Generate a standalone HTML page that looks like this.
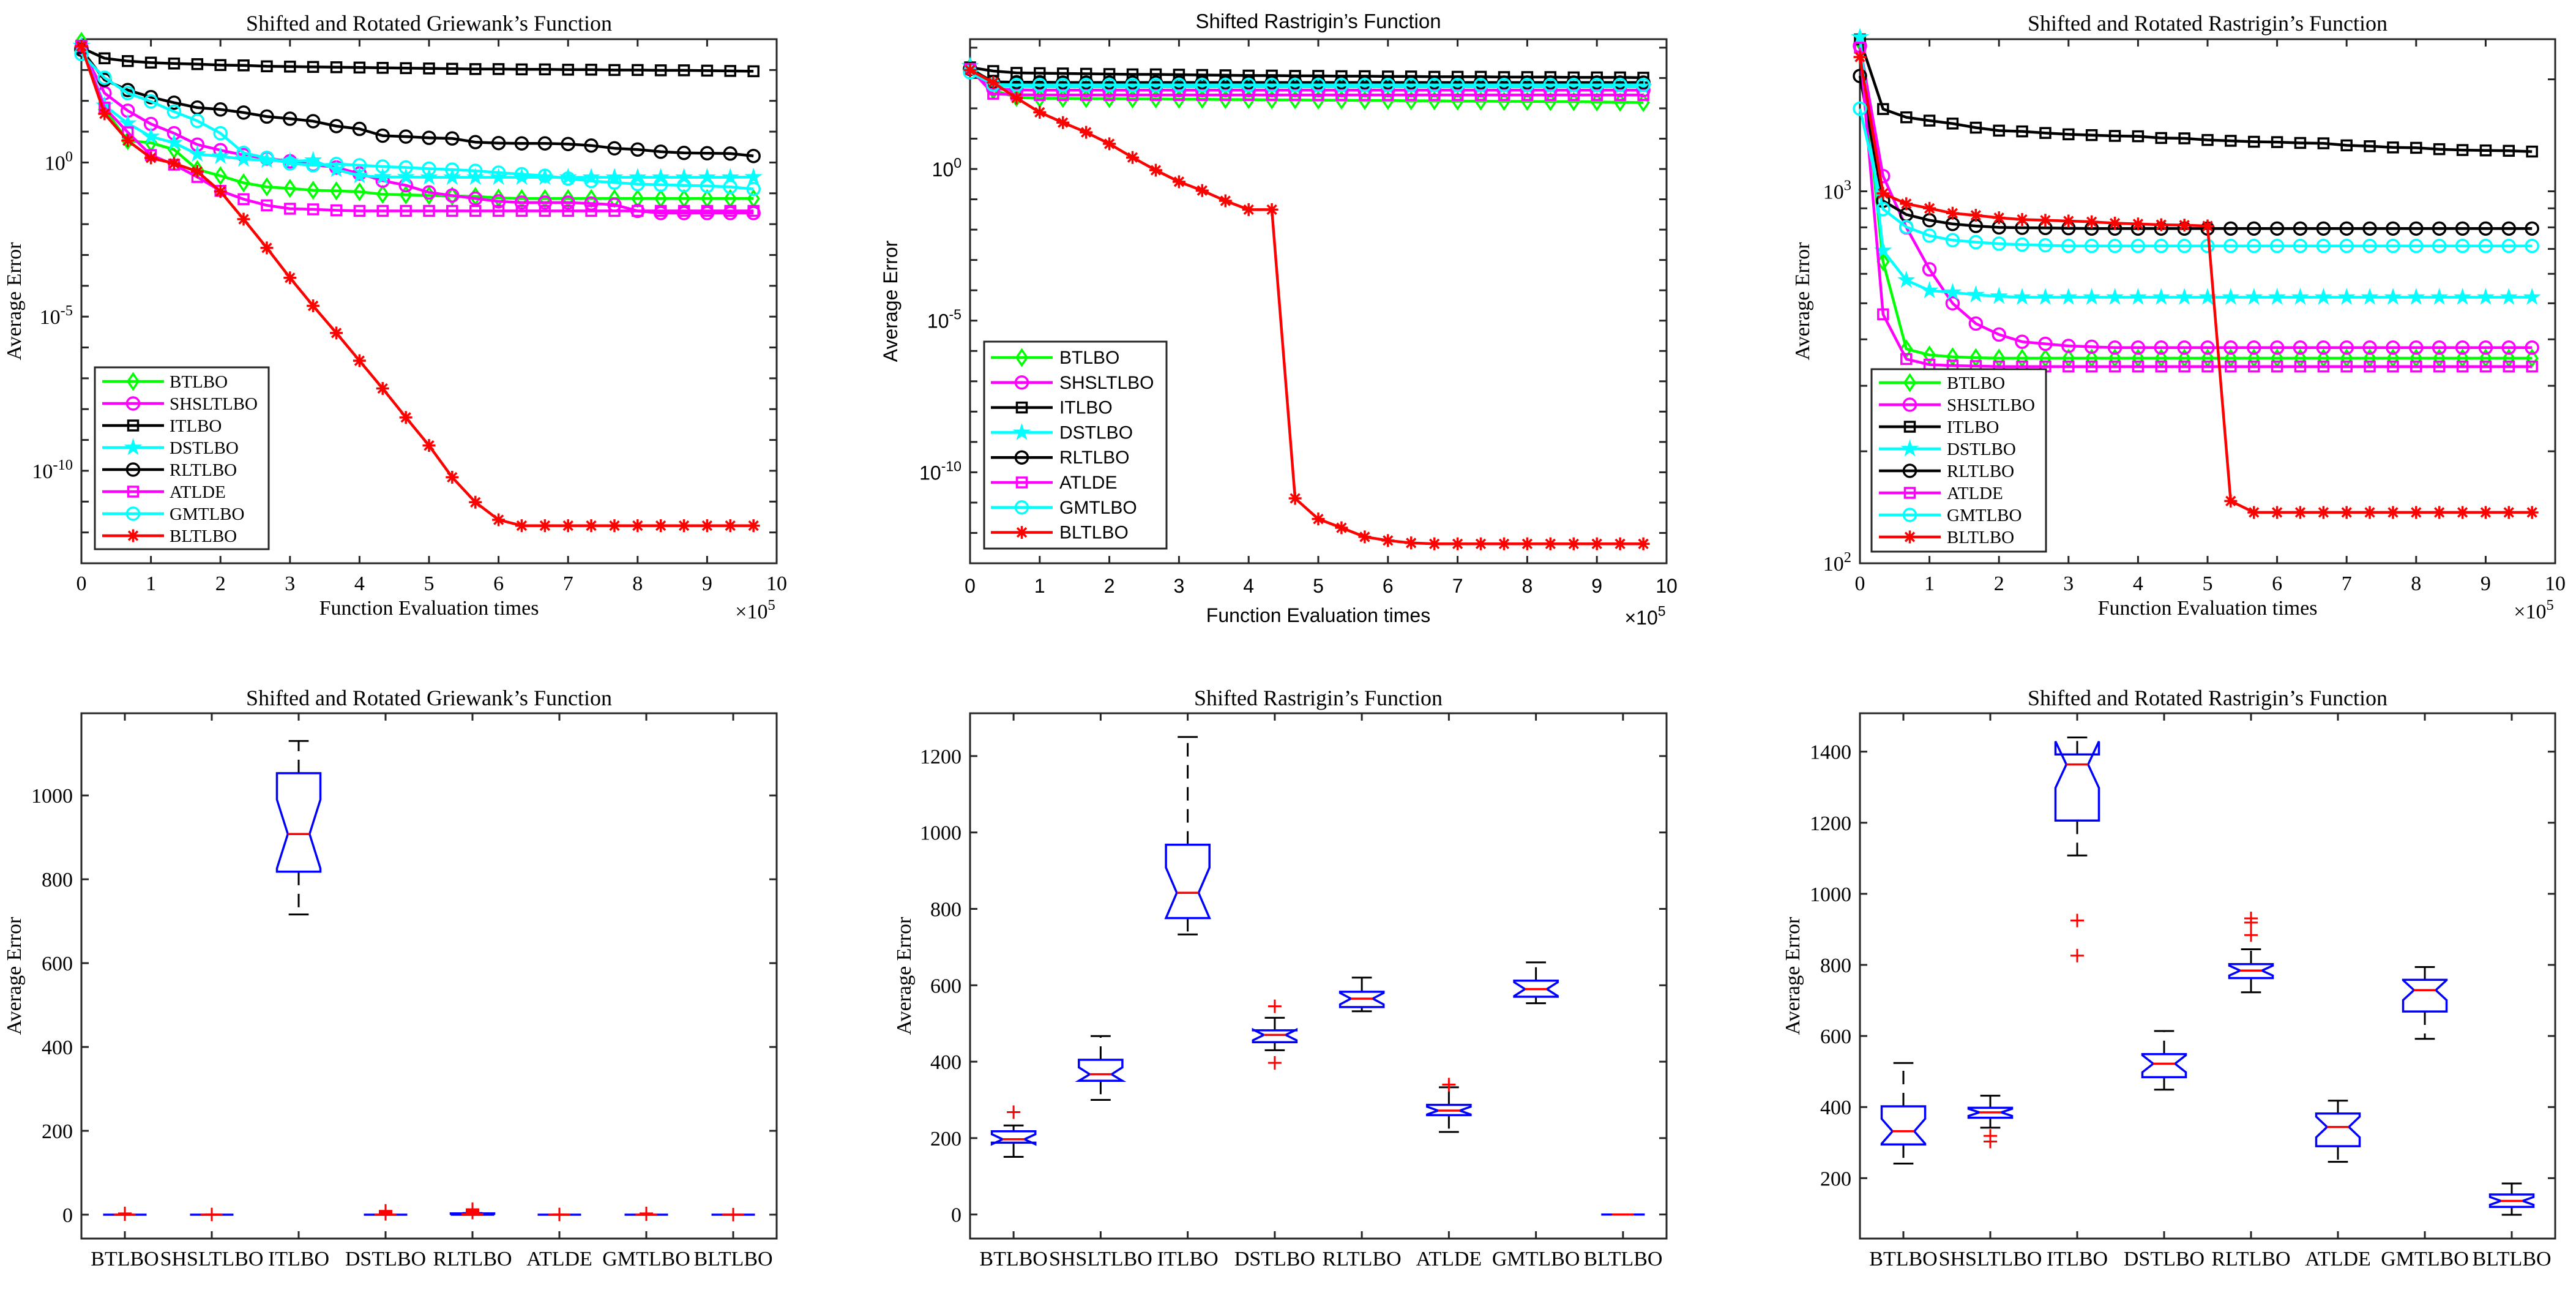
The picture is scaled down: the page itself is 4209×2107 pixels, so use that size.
<!DOCTYPE html>
<html><head><meta charset="utf-8"><style>
html,body{margin:0;padding:0;background:#fff;}
svg{display:block;}
</style></head><body>
<svg id="fig" xmlns="http://www.w3.org/2000/svg" width="4209" height="2107" viewBox="0 0 4209 2107"></svg>
<script>
// ---------- shared data ----------
const evalX = [0,0.333,0.667,1,1.333,1.667,2,2.333,2.667,3,3.333,3.667,4,4.333,4.667,5,5.333,5.667,6,6.333,6.667,7,7.333,7.667,8,8.333,8.667,9,9.333,9.667];
const algoNames = ["BTLBO","SHSLTLBO","ITLBO","DSTLBO","RLTLBO","ATLDE","GMTLBO","BLTLBO"];
const xTickVals = [0,1,2,3,4,5,6,7,8,9,10];

// ---------- chart 1: Griewank convergence (log10 values) ----------
const g_BTLBO = [3.93,1.72,0.71,0.64,0.42,-0.23,-0.43,-0.66,-0.79,-0.84,-0.90,-0.92,-0.95,-1.03,-1.05,-1.07,-1.09,-1.10,-1.15,-1.17,-1.17,-1.17,-1.17,-1.17,-1.17,-1.17,-1.17,-1.17,-1.17,-1.17];
const g_SHSLTLBO = [3.72,2.25,1.68,1.25,0.95,0.58,0.40,0.24,0.13,0.04,-0.07,-0.16,-0.36,-0.59,-0.74,-0.97,-1.07,-1.17,-1.26,-1.30,-1.30,-1.30,-1.33,-1.37,-1.57,-1.64,-1.64,-1.64,-1.64,-1.64];
const g_ITLBO = [3.72,3.38,3.29,3.24,3.21,3.19,3.16,3.15,3.12,3.11,3.10,3.09,3.08,3.07,3.06,3.05,3.04,3.03,3.03,3.02,3.02,3.01,3.01,3.00,3.00,2.99,2.99,2.98,2.97,2.96];
const g_DSTLBO = [3.79,1.85,1.27,0.84,0.64,0.27,0.20,0.11,0.07,0.04,0.07,-0.23,-0.43,-0.47,-0.47,-0.48,-0.48,-0.48,-0.48,-0.48,-0.48,-0.48,-0.48,-0.48,-0.48,-0.48,-0.48,-0.48,-0.48,-0.47];
const g_RLTLBO = [3.66,2.68,2.35,2.12,1.94,1.78,1.72,1.62,1.49,1.42,1.34,1.18,1.09,0.87,0.84,0.80,0.78,0.66,0.63,0.62,0.62,0.60,0.55,0.46,0.42,0.35,0.31,0.30,0.29,0.21];
const g_ATLDE = [3.79,1.78,0.98,0.24,-0.07,-0.47,-0.92,-1.19,-1.39,-1.50,-1.52,-1.55,-1.57,-1.57,-1.57,-1.57,-1.57,-1.57,-1.57,-1.57,-1.57,-1.57,-1.57,-1.57,-1.57,-1.57,-1.57,-1.57,-1.57,-1.57];
const g_GMTLBO = [3.52,2.75,2.25,1.98,1.65,1.35,0.95,0.31,0.15,-0.03,-0.09,-0.05,-0.09,-0.13,-0.16,-0.20,-0.23,-0.27,-0.33,-0.38,-0.43,-0.52,-0.60,-0.65,-0.70,-0.72,-0.74,-0.76,-0.79,-0.86];
const g_BLTLBO = [3.77,1.58,0.71,0.15,-0.03,-0.29,-0.94,-1.84,-2.77,-3.74,-4.65,-5.53,-6.43,-7.33,-8.27,-9.18,-10.21,-11.02,-11.59,-11.78,-11.78,-11.78,-11.78,-11.78,-11.78,-11.78,-11.78,-11.78,-11.78,-11.78];

// ---------- chart 2: Rastrigin convergence (log10 values) ----------
const r_BTLBO = [3.35,2.60,2.36,2.33,2.33,2.32,2.32,2.31,2.31,2.30,2.30,2.29,2.29,2.28,2.28,2.27,2.27,2.26,2.26,2.25,2.25,2.24,2.24,2.23,2.23,2.22,2.22,2.21,2.20,2.19];
const r_SHSLTLBO = [3.30,2.65,2.61,2.60,2.60,2.60,2.60,2.60,2.60,2.60,2.60,2.60,2.60,2.60,2.60,2.60,2.60,2.60,2.60,2.60,2.60,2.60,2.60,2.60,2.60,2.60,2.60,2.60,2.60,2.60];
const r_ITLBO = [3.35,3.23,3.17,3.16,3.15,3.14,3.13,3.12,3.12,3.11,3.10,3.09,3.08,3.08,3.07,3.07,3.06,3.06,3.05,3.05,3.04,3.04,3.04,3.03,3.03,3.03,3.02,3.02,3.02,3.01];
const r_DSTLBO = [3.40,2.75,2.72,2.71,2.71,2.71,2.71,2.71,2.71,2.71,2.71,2.71,2.71,2.71,2.71,2.71,2.71,2.71,2.71,2.71,2.71,2.71,2.71,2.71,2.71,2.71,2.71,2.71,2.71,2.71];
const r_RLTLBO = [3.30,2.87,2.86,2.86,2.85,2.85,2.85,2.85,2.85,2.85,2.85,2.85,2.85,2.85,2.85,2.85,2.85,2.85,2.85,2.85,2.85,2.85,2.85,2.85,2.85,2.85,2.85,2.85,2.85,2.85];
const r_ATLDE = [3.30,2.48,2.45,2.44,2.44,2.44,2.44,2.44,2.44,2.44,2.44,2.44,2.44,2.44,2.44,2.44,2.44,2.44,2.44,2.44,2.44,2.44,2.44,2.44,2.44,2.44,2.44,2.44,2.44,2.44];
const r_GMTLBO = [3.19,2.78,2.77,2.77,2.77,2.77,2.77,2.77,2.77,2.77,2.77,2.77,2.77,2.77,2.77,2.77,2.77,2.77,2.77,2.77,2.77,2.77,2.77,2.77,2.77,2.77,2.77,2.77,2.77,2.77];
const r_BLTLBO = [3.26,2.85,2.34,1.87,1.53,1.21,0.83,0.38,-0.04,-0.42,-0.71,-1.05,-1.34,-1.34,-10.86,-11.54,-11.83,-12.13,-12.25,-12.33,-12.36,-12.36,-12.36,-12.36,-12.36,-12.36,-12.36,-12.36,-12.36,-12.36];

// ---------- chart 3: Rotated Rastrigin convergence (raw values) ----------
const rr_BTLBO = [2523,647,377,363,359,357,356,356,356,356,356,356,356,356,356,356,356,356,356,356,356,356,356,356,356,356,356,356,356,356];
const rr_SHSLTLBO = [2460,1099,800,617,500,441,412,394,389,384,382,380,380,380,380,380,380,380,380,380,380,380,380,380,380,380,380,380,380,380];
const rr_ITLBO = [2560,1664,1581,1549,1521,1483,1456,1449,1435,1423,1416,1409,1406,1391,1388,1374,1367,1359,1356,1349,1346,1329,1322,1312,1309,1298,1291,1288,1285,1279];
const rr_DSTLBO = [2596,693,577,541,535,527,522,519,519,519,519,519,519,519,519,519,519,519,519,519,519,519,519,519,519,519,519,519,519,519];
const rr_RLTLBO = [2042,943,866,836,817,807,800,798,797,796,794,794,794,794,794,794,794,794,794,794,794,794,794,794,794,794,794,794,794,794];
const rr_ATLDE = [2433,467,354,342,340,339,338,338,338,338,338,338,338,338,338,338,338,338,338,338,338,338,338,338,338,338,338,338,338,338];
const rr_GMTLBO = [1668,896,802,760,739,730,723,719,716,713,713,713,713,713,713,713,713,713,713,713,713,713,713,713,713,713,713,713,713,713];
const rr_BLTLBO = [2297,987,926,900,873,862,849,840,836,832,828,821,817,813,811,807,147,137,137,137,137,137,137,137,137,137,137,137,137,137];

// ---------- box plot data ----------
const b1_low = [0,0,716,0,0,0,0,0];
const b1_q1 = [0,0,818,0,0,0,0,0];
const b1_med = [0,0,908,0,1,0,0,0];
const b1_q3 = [0,0,1053,0,3,0,0,0];
const b1_high = [0,0,1130,0,4,0,0,0];
const b1_nlo = [0,0,826,0,0,0,0,0];
const b1_nhi = [0,0,990,0,2,0,0,0];
const b1_out = [[1,3],[0.5],[],[2,5,9],[5,9,13],[0.5],[1,3],[0.2]];

const b2_low = [151,300,733,430,532,216,553,0];
const b2_q1 = [188,350,776,451,543,260,570,0];
const b2_med = [197,367,842,470,565,272,590,0];
const b2_q3 = [218,405,968,482,583,287,612,0];
const b2_high = [233,467,1250,515,620,333,660,0];
const b2_nlo = [184,350,776,456,550,262,572,0];
const b2_nhi = [210,385,908,484,580,282,608,0];
const b2_out = [[268],[],[],[545,397],[],[340],[],[]];

const b3_low = [241,342,1108,449,723,246,592,97];
const b3_q1 = [295,370,1206,484,763,290,669,119];
const b3_med = [332,385,1364,522,784,344,729,136];
const b3_q3 = [402,398,1392,549,802,382,758,154];
const b3_high = [524,432,1440,614,844,418,794,185];
const b3_nlo = [297,375,1298,498,770,315,701,125];
const b3_nhi = [367,395,1429,546,798,373,757,147];
const b3_out = [[],[319,303],[925,826],[],[919,884,931],[],[],[]];

// ---------- helpers ----------
const NS = "http://www.w3.org/2000/svg";
const svg = document.getElementById('fig');
function mk(tag, attrs, parent){
  const e = document.createElementNS(NS, tag);
  for (const k in attrs) e.setAttribute(k, attrs[k]);
  (parent||svg).appendChild(e);
  return e;
}
const AX = "#262626";
const styles = [
  {c:"#00ff00", m:"diamond"},
  {c:"#ff00ff", m:"circle"},
  {c:"#000000", m:"square"},
  {c:"#00ffff", m:"star"},
  {c:"#000000", m:"circle"},
  {c:"#ff00ff", m:"square"},
  {c:"#00ffff", m:"circle"},
  {c:"#ff0000", m:"asterisk"}
];
function marker(g, type, x, y, color, s){
  let e;
  if (type==="circle"){ e = mk('circle',{cx:x,cy:y,r:s,fill:'none',stroke:color,'stroke-width':3.5},g); }
  else if (type==="square"){ e = mk('rect',{x:x-s*0.8,y:y-s*0.8,width:s*1.6,height:s*1.6,fill:'none',stroke:color,'stroke-width':3.5},g); }
  else if (type==="diamond"){ e = mk('polygon',{points:`${x},${y-s*1.25} ${x+s*0.85},${y} ${x},${y+s*1.25} ${x-s*0.85},${y}`,fill:'none',stroke:color,'stroke-width':3.5},g); }
  else if (type==="star"){
    let p=[]; for(let k=0;k<10;k++){const r=k%2?s*0.5:s*1.3;const a=-Math.PI/2+k*Math.PI/5;p.push((x+r*Math.cos(a)).toFixed(1)+","+(y+r*Math.sin(a)).toFixed(1));}
    e = mk('polygon',{points:p.join(' '),fill:color,stroke:color,'stroke-width':1.5},g);
  } else {
    const r=s*1.05; let d="";
    for(let k=0;k<4;k++){const a=k*Math.PI/4;d+=`M${x-r*Math.cos(a)},${y-r*Math.sin(a)}L${x+r*Math.cos(a)},${y+r*Math.sin(a)}`;}
    e = mk('path',{d:d,stroke:color,'stroke-width':3.5,fill:'none'},g);
  }
  
  
  return e;
}
function txt(parent, x, y, s, font, size, anchor, name){
  const t = mk('text',{x:x,y:y,'font-family':font,'font-size':size,'text-anchor':anchor||'middle',fill:'#000'},parent);
  t.textContent = s;
  
  
  return t;
}
function powLabel(parent, x, y, exp, font, size){
  const t = mk('text',{x:x,y:y,'font-family':font,'font-size':size,'text-anchor':'end',fill:'#000'},parent);
  
  
  const a = mk('tspan',{},t); a.textContent = "10";
  const b = mk('tspan',{dy:-14,'font-size':size*0.72},t); b.textContent = String(exp);
  return t;
}

// ---------- convergence chart ----------
function lineChart(cfg){
  const g = mk('g',{});
  
  
  const {x0,x1,y0,y1,lmin,lmax,font,fs} = cfg;
  const sx = v => x0 + (v-0)/(10-0)*(x1-x0);
  const sy = l => y1 - (l-lmin)/(lmax-lmin)*(y1-y0);
  // box
  const frame = mk('rect',{x:x0,y:y0,width:x1-x0,height:y1-y0,fill:'none',stroke:AX,'stroke-width':3},g);
  
  
  // x ticks
  xTickVals.forEach(v=>{
    const X = sx(v);
    mk('line',{x1:X,y1:y1,x2:X,y2:y1-12,stroke:AX,'stroke-width':3},g);
    mk('line',{x1:X,y1:y0,x2:X,y2:y0+12,stroke:AX,'stroke-width':3},g);
    txt(g, X, y1+cfg.tickDy, String(v), font, fs, 'middle', 'x-tick-label');
  });
  // y ticks
  cfg.yTicks.forEach(l=>{
    const Y = sy(l);
    mk('line',{x1:x0,y1:Y,x2:x0+12,y2:Y,stroke:AX,'stroke-width':3},g);
    mk('line',{x1:x1,y1:Y,x2:x1-12,y2:Y,stroke:AX,'stroke-width':3},g);
  });
  cfg.yLabels.forEach(l=>{ powLabel(g, x0-14, sy(l)+12, l, font, fs); });
  // titles
  txt(g, (x0+x1)/2+cfg.titleDx, cfg.titleY, cfg.title, font, cfg.tfs, 'middle', 'chart-title');
  txt(g, (x0+x1)/2, cfg.xlabY, "Function Evaluation times", font, fs, 'middle', 'x-axis-title');
  const yl = txt(g, 0, 0, "Average Error", font, fs, 'middle', 'y-axis-title');
  yl.setAttribute('transform', `translate(${cfg.ylabX},${(y0+y1)/2}) rotate(-90)`);
  const ex = mk('text',{x:x1-35,y:y1+cfg.expDy,'font-family':font,'font-size':fs,'text-anchor':'middle',fill:'#000'},g);
  
  
  const e1 = mk('tspan',{},ex); e1.textContent = "×10";
  const e2 = mk('tspan',{dy:-14,'font-size':fs*0.72},ex); e2.textContent = "5";
  // series
  cfg.series.forEach((vals,i)=>{
    const st = styles[i];
    const toL = cfg.raw ? (v=>Math.log10(v)) : (v=>v);
    const pts = vals.map((v,k)=>[sx(evalX[k]), sy(toL(v))]);
    const sg = mk('g',{},g);
    
    
    const pl = mk('polyline',{points:pts.map(p=>p[0].toFixed(1)+","+p[1].toFixed(1)).join(' '),fill:'none',stroke:st.c,'stroke-width':4.5,'stroke-linejoin':'round'},sg);
    
    
    pts.forEach(p=>marker(sg, st.m, p[0], p[1], st.c, 10));
  });
  // legend
  const L = cfg.legend;
  const lg = mk('g',{},g);
  
  
  const lb = mk('rect',{x:L.x0,y:L.y0,width:L.x1-L.x0,height:L.y1-L.y0,fill:'#fff',stroke:AX,'stroke-width':3},lg);
  
  
  algoNames.forEach((n,i)=>{
    const y = L.first + i*L.step;
    const st = styles[i];
    const eg = mk('g',{},lg);
    
    
    mk('line',{x1:L.lx0,y1:y,x2:L.lx1,y2:y,stroke:st.c,'stroke-width':4.5},eg);
    marker(eg, st.m, (L.lx0+L.lx1)/2, y, st.c, 10);
    txt(eg, L.tx, y+10, n, font, L.fs, 'start', 'legend-label');
  });
}

// ---------- box chart ----------
function boxChart(cfg){
  const g = mk('g',{});
  
  
  const {x0,x1,y0,y1,ymin,ymax,font,fs} = cfg;
  const sx = i => x0 + (i+1-0.5)/8*(x1-x0);
  const sy = v => y1 - (v-ymin)/(ymax-ymin)*(y1-y0);
  const unit = (x1-x0)/8;
  const frame = mk('rect',{x:x0,y:y0,width:x1-x0,height:y1-y0,fill:'none',stroke:AX,'stroke-width':3},g);
  
  
  algoNames.forEach((n,i)=>{
    const X = sx(i);
    mk('line',{x1:X,y1:y1,x2:X,y2:y1-12,stroke:AX,'stroke-width':3},g);
    mk('line',{x1:X,y1:y0,x2:X,y2:y0+12,stroke:AX,'stroke-width':3},g);
    txt(g, X, y1+44, n, font, fs, 'middle', 'x-tick-label');
  });
  cfg.yTicks.forEach(v=>{
    const Y = sy(v);
    mk('line',{x1:x0,y1:Y,x2:x0+12,y2:Y,stroke:AX,'stroke-width':3},g);
    mk('line',{x1:x1,y1:Y,x2:x1-12,y2:Y,stroke:AX,'stroke-width':3},g);
    txt(g, x0-14, Y+12, String(v), font, fs, 'end', 'y-tick-label');
  });
  txt(g, (x0+x1)/2, cfg.titleY, cfg.title, font, cfg.tfs, 'middle', 'chart-title');
  const yl = txt(g, 0, 0, "Average Error", font, fs, 'middle', 'y-axis-title');
  yl.setAttribute('transform', `translate(${cfg.ylabX},${(y0+y1)/2}) rotate(-90)`);
  const d = cfg.data;
  algoNames.forEach((n,i)=>{
    const bg = mk('g',{},g);
    
    
    const X = sx(i), hw = unit*0.25, cw = unit*0.115;
    const q1=sy(d.q1[i]), q3=sy(d.q3[i]), md=sy(d.med[i]), lo=sy(d.low[i]), hi=sy(d.high[i]);
    const nl=sy(d.nlo[i]), nh=sy(d.nhi[i]);
    mk('line',{x1:X,y1:q3,x2:X,y2:hi,stroke:'#000','stroke-width':3,'stroke-dasharray':'22,14'},bg);
    mk('line',{x1:X,y1:q1,x2:X,y2:lo,stroke:'#000','stroke-width':3,'stroke-dasharray':'22,14'},bg);
    mk('line',{x1:X-cw,y1:hi,x2:X+cw,y2:hi,stroke:'#000','stroke-width':3},bg);
    mk('line',{x1:X-cw,y1:lo,x2:X+cw,y2:lo,stroke:'#000','stroke-width':3},bg);
    const l=X-hw, r=X+hw, il=X-hw/2, ir=X+hw/2;
    const pts = [[l,q1],[l,nl],[il,md],[l,nh],[l,q3],[r,q3],[r,nh],[ir,md],[r,nl],[r,q1]];
    const bx = mk('polygon',{points:pts.map(p=>p[0].toFixed(1)+","+p[1].toFixed(1)).join(' '),fill:'none',stroke:'#0000ff','stroke-width':3.5},bg);
    
    
    const ml = mk('line',{x1:il,y1:md,x2:ir,y2:md,stroke:'#ff0000','stroke-width':3.5},bg);
    
    
    d.out[i].forEach(v=>{
      const Y = sy(v);
      const o = mk('path',{d:`M${X-11},${Y}L${X+11},${Y}M${X},${Y-11}L${X},${Y+11}`,stroke:'#ff0000','stroke-width':3},bg);
      
      
    });
  });
}

const SERIF = "'Liberation Serif', serif";
const SANS = "'Liberation Sans', sans-serif";

lineChart({name:'griewank-convergence-chart', x0:133,x1:1269,y0:64,y1:920,lmin:-13,lmax:4,font:SERIF,fs:34,tfs:36,
  yTicks:[-13,-12,-11,-10,-9,-8,-7,-6,-5,-4,-3,-2,-1,0,1,2,3,4], yLabels:[0,-5,-10],
  title:"Shifted and Rotated Griewank’s Function", titleY:50, titleDx:0, xlabY:1004, ylabX:34, tickDy:44, expDy:90,
  series:[g_BTLBO,g_SHSLTLBO,g_ITLBO,g_DSTLBO,g_RLTLBO,g_ATLDE,g_GMTLBO,g_BLTLBO],
  legend:{x0:155,x1:439,y0:600,y1:897,first:623,step:36,lx0:167,lx1:268,tx:277,fs:29}});

lineChart({name:'rastrigin-convergence-chart', x0:1585,x1:2723,y0:64,y1:920,lmin:-13,lmax:4.28,font:SANS,fs:32,tfs:33,
  yTicks:[-13,-12,-11,-10,-9,-8,-7,-6,-5,-4,-3,-2,-1,0,1,2,3,4], yLabels:[0,-5,-10],
  title:"Shifted Rastrigin’s Function", titleY:46, titleDx:0, xlabY:1016, ylabX:1466, tickDy:48, expDy:100,
  series:[r_BTLBO,r_SHSLTLBO,r_ITLBO,r_DSTLBO,r_RLTLBO,r_ATLDE,r_GMTLBO,r_BLTLBO],
  legend:{x0:1608,x1:1906,y0:558,y1:896,first:584,step:40.8,lx0:1619,lx1:1720,tx:1731,fs:30}});

(function(){
  const yT = [2,Math.log10(200),Math.log10(300),Math.log10(400),Math.log10(500),Math.log10(600),Math.log10(700),Math.log10(800),Math.log10(900),3,Math.log10(2000)];
  lineChart({name:'rotated-rastrigin-convergence-chart', x0:3039,x1:4175,y0:64,y1:920,lmin:2,lmax:3.409,font:SERIF,fs:34,tfs:36,raw:true,
    yTicks:yT, yLabels:[2,3],
    title:"Shifted and Rotated Rastrigin’s Function", titleY:50, titleDx:0, xlabY:1004, ylabX:2956, tickDy:44, expDy:90,
    series:[rr_BTLBO,rr_SHSLTLBO,rr_ITLBO,rr_DSTLBO,rr_RLTLBO,rr_ATLDE,rr_GMTLBO,rr_BLTLBO],
    legend:{x0:3058,x1:3343,y0:603,y1:901,first:625,step:36,lx0:3070,lx1:3171,tx:3181,fs:29}});
})();

boxChart({name:'griewank-boxplot', x0:133,x1:1269,y0:1165,y1:2023,ymin:-57,ymax:1196,font:SERIF,fs:34,tfs:36,
  yTicks:[0,200,400,600,800,1000], title:"Shifted and Rotated Griewank’s Function", titleY:1152, ylabX:34,
  data:{low:b1_low,q1:b1_q1,med:b1_med,q3:b1_q3,high:b1_high,nlo:b1_nlo,nhi:b1_nhi,out:b1_out}});
boxChart({name:'rastrigin-boxplot', x0:1585,x1:2723,y0:1165,y1:2023,ymin:-63,ymax:1312,font:SERIF,fs:34,tfs:36,
  yTicks:[0,200,400,600,800,1000,1200], title:"Shifted Rastrigin’s Function", titleY:1152, ylabX:1488,
  data:{low:b2_low,q1:b2_q1,med:b2_med,q3:b2_q3,high:b2_high,nlo:b2_nlo,nhi:b2_nhi,out:b2_out}});
boxChart({name:'rotated-rastrigin-boxplot', x0:3039,x1:4175,y0:1165,y1:2023,ymin:30,ymax:1508,font:SERIF,fs:34,tfs:36,
  yTicks:[200,400,600,800,1000,1200,1400], title:"Shifted and Rotated Rastrigin’s Function", titleY:1152, ylabX:2940,
  data:{low:b3_low,q1:b3_q1,med:b3_med,q3:b3_q3,high:b3_high,nlo:b3_nlo,nhi:b3_nhi,out:b3_out}});
</script>
</body></html>
